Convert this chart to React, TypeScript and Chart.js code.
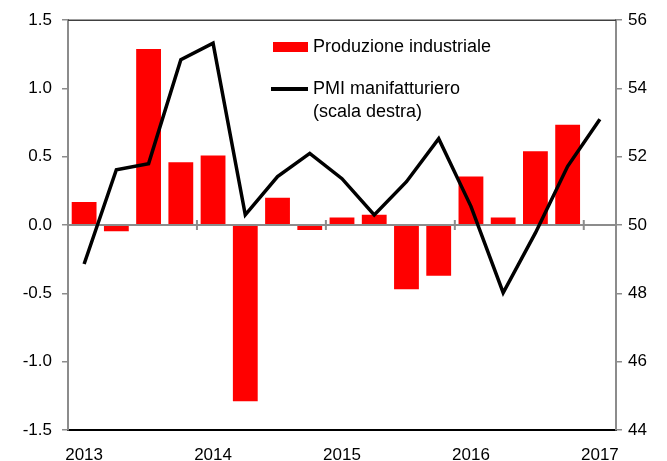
import React, { useEffect, useRef } from "react";
import { Chart, registerables } from "chart.js";

Chart.register(...registerables);

const quarters = [
  "2013 T1", "2013 T2", "2013 T3", "2013 T4",
  "2014 T1", "2014 T2", "2014 T3", "2014 T4",
  "2015 T1", "2015 T2", "2015 T3", "2015 T4",
  "2016 T1", "2016 T2", "2016 T3", "2016 T4",
  "2017 T1",
];
const yearLabels = ["2013", "2014", "2015", "2016", "2017"];
const produzione = [
  0.17, -0.045, 1.29, 0.46,
  0.51, -1.29, 0.2, -0.035,
  0.055, 0.075, -0.47, -0.37,
  0.355, 0.055, 0.54, 0.735,
  null,
];
const pmi = [
  48.86, 51.62, 51.8, 54.84,
  55.33, 50.3, 51.42, 52.1,
  51.36, 50.3, 51.27, 52.53,
  50.55, 48.02, 49.77, 51.72,
  53.1,
];
const leftTicks = [-1.5, 1.5, 0.5];
const rightTicks = [44, 56, 2];
const legendBar = "Produzione industriale";
const legendLine = ["PMI manifatturiero", "(scala destra)"];

const FONT = "'Liberation Sans', Arial, sans-serif";

const decorPlugin = {
  id: "decor",
  afterDatasetDraw(chart: any, args: any) {
    if (args.index !== 0) return;
    const ctx = chart.ctx;
    const { left, right } = chart.chartArea;
    const y0 = chart.scales.y.getPixelForValue(0);
    const xs = chart.scales.x;
    ctx.save();
    ctx.strokeStyle = "#8c8c8c";
    ctx.lineWidth = 2;
    ctx.beginPath();
    ctx.moveTo(left, y0);
    ctx.lineTo(right, y0);
    for (let i = 4; i < quarters.length; i += 4) {
      const x = (xs.getPixelForValue(i - 1) + xs.getPixelForValue(i)) / 2;
      ctx.moveTo(x, y0 - 5);
      ctx.lineTo(x, y0 + 5);
    }
    ctx.stroke();
    ctx.restore();
  },
  afterDraw(chart: any) {
    const ctx = chart.ctx;
    const { left, right, top } = chart.chartArea;
    ctx.save();
    ctx.strokeStyle = "#404040";
    ctx.lineWidth = 1.5;
    ctx.beginPath();
    ctx.moveTo(left, top);
    ctx.lineTo(right, top);
    ctx.stroke();

    ctx.font = `18px ${FONT}`;
    ctx.textBaseline = "middle";
    ctx.textAlign = "left";
    ctx.fillStyle = "#ff0000";
    ctx.fillRect(273, 42, 35, 10);
    ctx.fillStyle = "#000";
    ctx.fillText(legendBar, 313, 47);
    ctx.strokeStyle = "#000";
    ctx.lineWidth = 4;
    ctx.beginPath();
    ctx.moveTo(271, 89);
    ctx.lineTo(308, 89);
    ctx.stroke();
    ctx.fillText(legendLine[0], 313, 89);
    ctx.fillText(legendLine[1], 313, 112);
    ctx.restore();
  },
};

export default function App() {
  const ref = useRef<HTMLCanvasElement>(null);
  useEffect(() => {
    if (!ref.current) return;
    const chart = new Chart(ref.current, {
      type: "bar",
      data: {
        labels: quarters,
        datasets: [
          {
            type: "bar",
            label: legendBar,
            data: produzione as any,
            yAxisID: "y",
            backgroundColor: "#ff0000",
            barPercentage: 0.77,
            categoryPercentage: 1,
            order: 2,
          },
          {
            type: "line",
            label: legendLine.join(" "),
            data: pmi,
            yAxisID: "y1",
            borderColor: "#000",
            borderWidth: 3.5,
            pointRadius: 0,
            tension: 0,
            order: 1,
          } as any,
        ],
      },
      options: {
        animation: false,
        responsive: false,
        maintainAspectRatio: false,
        layout: { padding: { top: 17, left: 0, right: 0, bottom: 0 } },
        plugins: { legend: { display: false }, tooltip: { enabled: false } },
        scales: {
          x: {
            type: "category",
            offset: true,
            grid: { drawOnChartArea: false, drawTicks: false, color: "transparent" },
            border: { display: true, color: "#000", width: 2 },
            ticks: {
              autoSkip: false,
              maxRotation: 0,
              padding: 15,
              color: "#000",
              font: { family: FONT, size: 17 },
              callback: (_v: any, i: number) => (i % 4 === 0 ? yearLabels[i / 4] : ""),
            },
            afterFit: (s: any) => { s.height = 31; },
          },
          y: {
            position: "left",
            min: leftTicks[0],
            max: leftTicks[1],
            ticks: {
              stepSize: leftTicks[2],
              padding: 10,
              color: "#000",
              font: { family: FONT, size: 17 },
              callback: (v: any) => Number(v).toFixed(1),
            },
            grid: { drawOnChartArea: false, drawTicks: true, tickLength: 6, color: "#8c8c8c", lineWidth: 1.5 },
            border: { display: true, color: "#8c8c8c", width: 2 },
            afterFit: (s: any) => { s.width = 68; },
          },
          y1: {
            position: "right",
            min: rightTicks[0],
            max: rightTicks[1],
            ticks: {
              stepSize: rightTicks[2],
              padding: 6,
              color: "#000",
              font: { family: FONT, size: 17 },
            },
            grid: { drawOnChartArea: false, drawTicks: true, tickLength: 6, color: "#8c8c8c", lineWidth: 1.5 },
            border: { display: true, color: "#8c8c8c", width: 2 },
            afterFit: (s: any) => { s.width = 51; },
          },
        },
      } as any,
      plugins: [decorPlugin],
    });
    return () => chart.destroy();
  }, []);
  return (
    <div style={{ position: "fixed", left: 0, top: 0, width: 667, height: 461, background: "#fff" }}>
      <canvas ref={ref} width={667} height={461} style={{ width: 667, height: 461 }} />
    </div>
  );
}
